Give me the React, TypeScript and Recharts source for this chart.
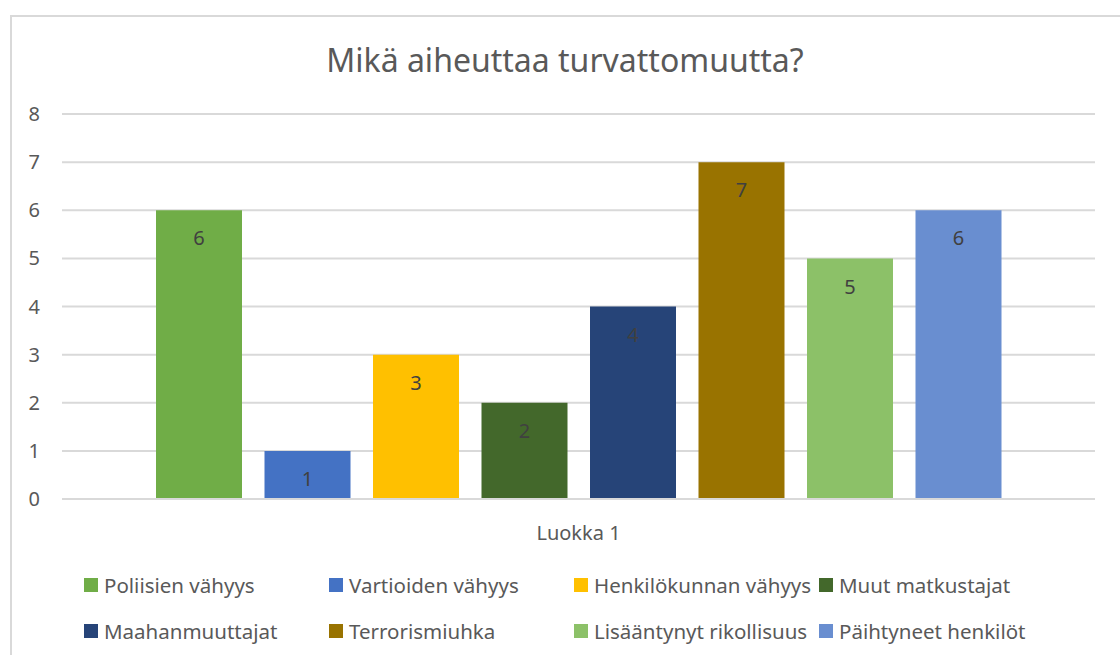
import React from "react";
import { BarChart, Bar, XAxis, YAxis, CartesianGrid, LabelList } from "recharts";

const categories = ["Luokka 1"];
const seriesNames = [
  "Poliisien vähyys",
  "Vartioiden vähyys",
  "Henkilökunnan vähyys",
  "Muut matkustajat",
  "Maahanmuuttajat",
  "Terrorismiuhka",
  "Lisääntynyt rikollisuus",
  "Päihtyneet henkilöt",
];
const seriesValues = [6, 1, 3, 2, 4, 7, 5, 6];
const seriesColors = [
  "#70AD47",
  "#4472C4",
  "#FFC000",
  "#43682B",
  "#264478",
  "#997300",
  "#8CC168",
  "#698ED0",
];
const yTicks = [0, 1, 2, 3, 4, 5, 6, 7, 8];

const data = categories.map((name) => {
  const row: Record<string, string | number> = { name };
  seriesNames.forEach((s, i) => {
    row[s] = seriesValues[i];
  });
  return row;
});

const FONT = "'Noto Sans', 'Open Sans', sans-serif";
const TEXT = "#595959";

// legend: 4 columns, 2 rows like the Excel legend
const legendCols = [84, 329, 574, 819];
const legendRows = [571, 617];

export default function App() {
  return (
    <div
      style={{
        position: "absolute",
        left: 0,
        top: 0,
        width: 1120,
        height: 655,
        background: "#fff",
        overflow: "hidden",
        fontFamily: FONT,
      }}
    >
      <div
        style={{
          position: "absolute",
          left: 10,
          top: 15,
          width: 1130,
          height: 660,
          border: "2px solid #d9d9d9",
          boxSizing: "border-box",
        }}
      />
      <div
        style={{
          position: "absolute",
          top: 38,
          left: 0,
          width: 1130,
          textAlign: "center",
          fontSize: 32,
          color: TEXT,
        }}
      >
        Mikä aiheuttaa turvattomuutta?
      </div>
      <div style={{ position: "absolute", left: 0, top: 0 }}>
        <BarChart
          width={1120}
          height={655}
          data={data}
          margin={{ top: 114, right: 25, left: 0, bottom: 116 }}
          barCategoryGap={94}
          barGap={22.5}
        >
          <CartesianGrid vertical={false} stroke="#d9d9d9" strokeWidth={2} />
          <XAxis
            dataKey="name"
            height={40}
            axisLine={{ stroke: "#d9d9d9", strokeWidth: 2 }}
            tickLine={false}
            tick={{ fill: TEXT, fontSize: 20, fontFamily: FONT }}
            tickMargin={21}
          />
          <YAxis
            width={62}
            domain={[0, 8]}
            ticks={yTicks}
            axisLine={false}
            tickLine={false}
            tickMargin={16}
            tick={{ fill: TEXT, fontSize: 20, fontFamily: FONT }}
          />
          {seriesNames.map((s, i) => (
            <Bar key={s} dataKey={s} fill={seriesColors[i]} isAnimationActive={false}>
              <LabelList
                dataKey={s}
                position="insideTop"
                offset={21}
                fill="#404040"
                fontSize={20}
                fontFamily={FONT}
              />
            </Bar>
          ))}
        </BarChart>
      </div>
      {seriesNames.map((s, i) => (
        <div
          key={s}
          style={{
            position: "absolute",
            left: legendCols[i % 4],
            top: legendRows[Math.floor(i / 4)],
            display: "flex",
            alignItems: "center",
            fontSize: 20.5,
            color: TEXT,
            whiteSpace: "nowrap",
          }}
        >
          <span
            style={{
              display: "inline-block",
              width: 14,
              height: 14,
              background: seriesColors[i],
              marginRight: 6,
            }}
          />
          {s}
        </div>
      ))}
    </div>
  );
}
